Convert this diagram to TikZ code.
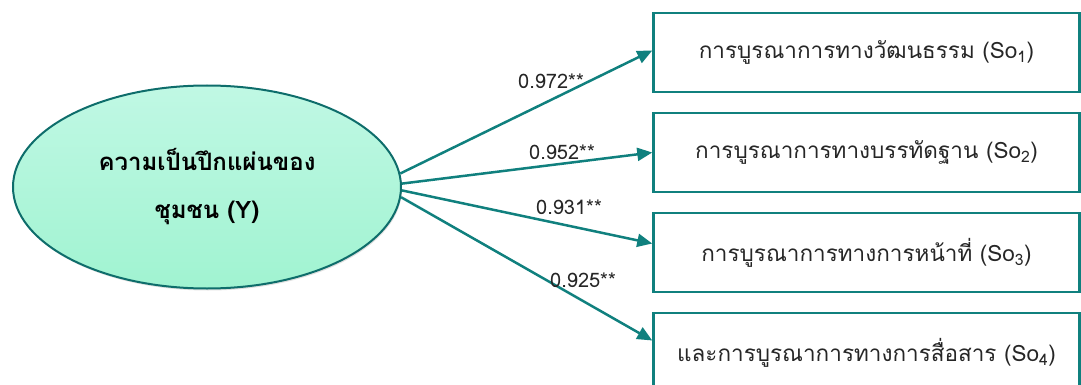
\documentclass[tikz,border=0pt]{standalone}
\usepackage{fontspec}
\usepackage{tikz}
\usetikzlibrary{shapes.geometric,arrows.meta,shadows}
\newfontfamily\thaifont[Script=Thai]{Loma}
\definecolor{tealline}{RGB}{16,128,126}
\definecolor{mint}{RGB}{152,242,205}
\definecolor{mintlight}{RGB}{192,248,228}

\begin{document}
\begin{tikzpicture}[x=1pt,y=-1pt,
 latent/.style={ellipse,draw=tealline!85!black,line width=2pt,top color=mintlight,middle color=mint,bottom color=mint!92!white,
   minimum width=388pt,minimum height=203pt,align=center,font=\thaifont\bfseries\fontsize{24}{48}\selectfont,
   drop shadow={opacity=0.25,shadow xshift=1pt,shadow yshift=-2pt}},
 observed/.style={rectangle,draw=tealline,line width=2.5pt,minimum width=426pt,minimum height=79pt,
   font=\thaifont\fontsize{22.5}{26}\selectfont,text=black!85},
 coef/.style={font=\thaifont\fontsize{20}{22}\selectfont,text=black!85},
 load/.style={->,>={Triangle[length=15pt,width=13pt]},draw=tealline,fill=tealline,line width=2.5pt}]
 \useasboundingbox (0,0) rectangle (1081,385);

 \node[latent] (Y) at (207,187) {ความเป็นปึกแผ่นของ\\ชุมชน (Y)};

 \node[observed] (So1) at (866.5,52.5) {การบูรณาการทางวัฒนธรรม (So\textsubscript{1})};
 \node[observed] (So2) at (866.5,152.5) {การบูรณาการทางบรรทัดฐาน (So\textsubscript{2})};
 \node[observed] (So3) at (866.5,252.5) {การบูรณาการทางการหน้าที่ (So\textsubscript{3})};
 \node[observed] (So4) at (866.5,352.5) {และการบูรณาการทางการสื่อสาร (So\textsubscript{4})};

 \draw[load] (Y.4) to ([yshift=2pt]So1.west);
 \draw[load] (Y.1) to (So2.west);
 \draw[load] (Y.-1) to ([yshift=9pt]So3.west);
 \draw[load] (Y.-3) to ([yshift=12pt]So4.west);

 \node[coef] (c1) at (551,81) {0.972**};
 \node[coef] (c2) at (562,152) {0.952**};
 \node[coef] (c3) at (569,207) {0.931**};
 \node[coef] (c4) at (583,280) {0.925**};
\end{tikzpicture}
\end{document}
